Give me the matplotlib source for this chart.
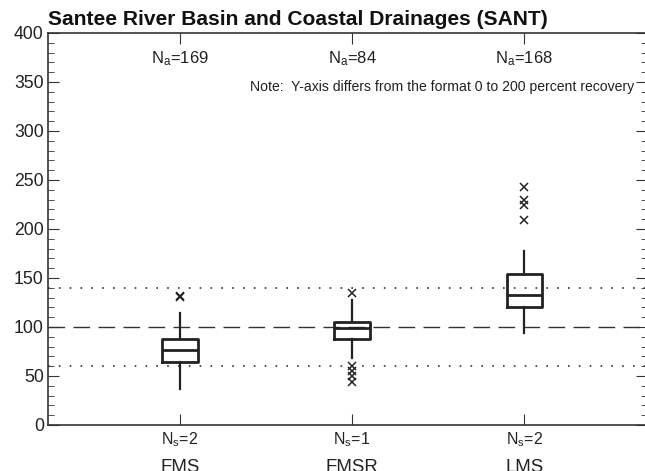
import matplotlib.pyplot as plt
from matplotlib.ticker import MultipleLocator
from matplotlib.transforms import blended_transform_factory

plt.rcParams['font.family'] = 'Liberation Sans'
plt.rcParams['mathtext.fontset'] = 'custom'
plt.rcParams['mathtext.rm'] = 'Liberation Sans'
plt.rcParams['mathtext.it'] = 'Liberation Sans'

# box summaries (percent recovery) per method
methods = ['FMS', 'FMSR', 'LMS']
n_analyses = [169, 84, 168]
n_sites = [2, 1, 2]
q1 = [64, 87.5, 120]
med = [76.5, 98.5, 132.5]
q3 = [88, 105, 154]
whisk_lo = [36.5, 68, 93.5]
whisk_hi = [114, 128, 177.5]
outliers = [[131, 131.5], [135, 60, 55, 49.5, 44], [242.5, 230, 224, 209]]

fig = plt.figure(figsize=(6.45, 4.71), dpi=100)
ax = fig.add_axes([0.0744, 0.0977, 0.929, 0.8323])

stats = []
for i in range(len(methods)):
    stats.append({'med': med[i], 'q1': q1[i], 'q3': q3[i],
                  'whislo': whisk_lo[i], 'whishi': whisk_hi[i],
                  'fliers': outliers[i]})
ax.bxp(stats, positions=[1, 2, 3], widths=0.205, showcaps=False,
       boxprops=dict(color='#222222', linewidth=2),
       medianprops=dict(color='#222222', linewidth=2),
       whiskerprops=dict(color='#222222', linewidth=1.6),
       flierprops=dict(marker='x', markeredgecolor='#222222', markersize=6,
                       markeredgewidth=1.1))

# reference lines
ax.axhline(100, color='#333333', linewidth=1, dashes=(12, 6), zorder=0)
ax.axhline(140, color='#333333', linewidth=1.2, dashes=(1, 5.5), zorder=0)
ax.axhline(60, color='#333333', linewidth=1.2, dashes=(1, 5.5), zorder=0)

ax.set_xlim(0.233, 3.715)
ax.set_ylim(0, 400)
ax.yaxis.set_major_locator(MultipleLocator(50))
ax.yaxis.set_minor_locator(MultipleLocator(10))
ax.set_xticks([1, 2, 3])
ax.set_xticklabels([])
ax.tick_params(axis='both', which='both', direction='in', top=True, right=True,
               color='#333333')
ax.tick_params(axis='y', which='major', length=8, labelsize=12.7, pad=3,
               labelcolor='#222222')
ax.tick_params(axis='y', which='minor', length=4.5)
ax.tick_params(axis='x', which='major', length=8)
for s in ax.spines.values():
    s.set_color('#333333')
    s.set_linewidth(1.2)

trans = blended_transform_factory(ax.transData, ax.transAxes)
for i, m in enumerate(methods):
    ax.text(i + 1, 374, 'N$_\\mathregular{a}$=%d' % n_analyses[i], ha='center',
            va='center', fontsize=12, color='#222222')
    ax.text(i + 1, -0.038, 'N$_\\mathregular{s}$=%d' % n_sites[i], ha='center',
            va='center', fontsize=11.5, color='#222222', transform=trans)
    ax.text(i + 1, -0.108, m, ha='center', va='center', fontsize=13.4,
            color='#222222', transform=trans)

ax.text(3.64, 345, 'Note:  Y-axis differs from the format 0 to 200 percent recovery',
        ha='right', va='center', fontsize=10.1, color='#222222')

fig.text(0.0744, 0.958, 'Santee River Basin and Coastal Drainages (SANT)',
         ha='left', va='center', fontsize=15.1, fontweight='bold', color='#111111')

fig.savefig('out.png', dpi=100)
